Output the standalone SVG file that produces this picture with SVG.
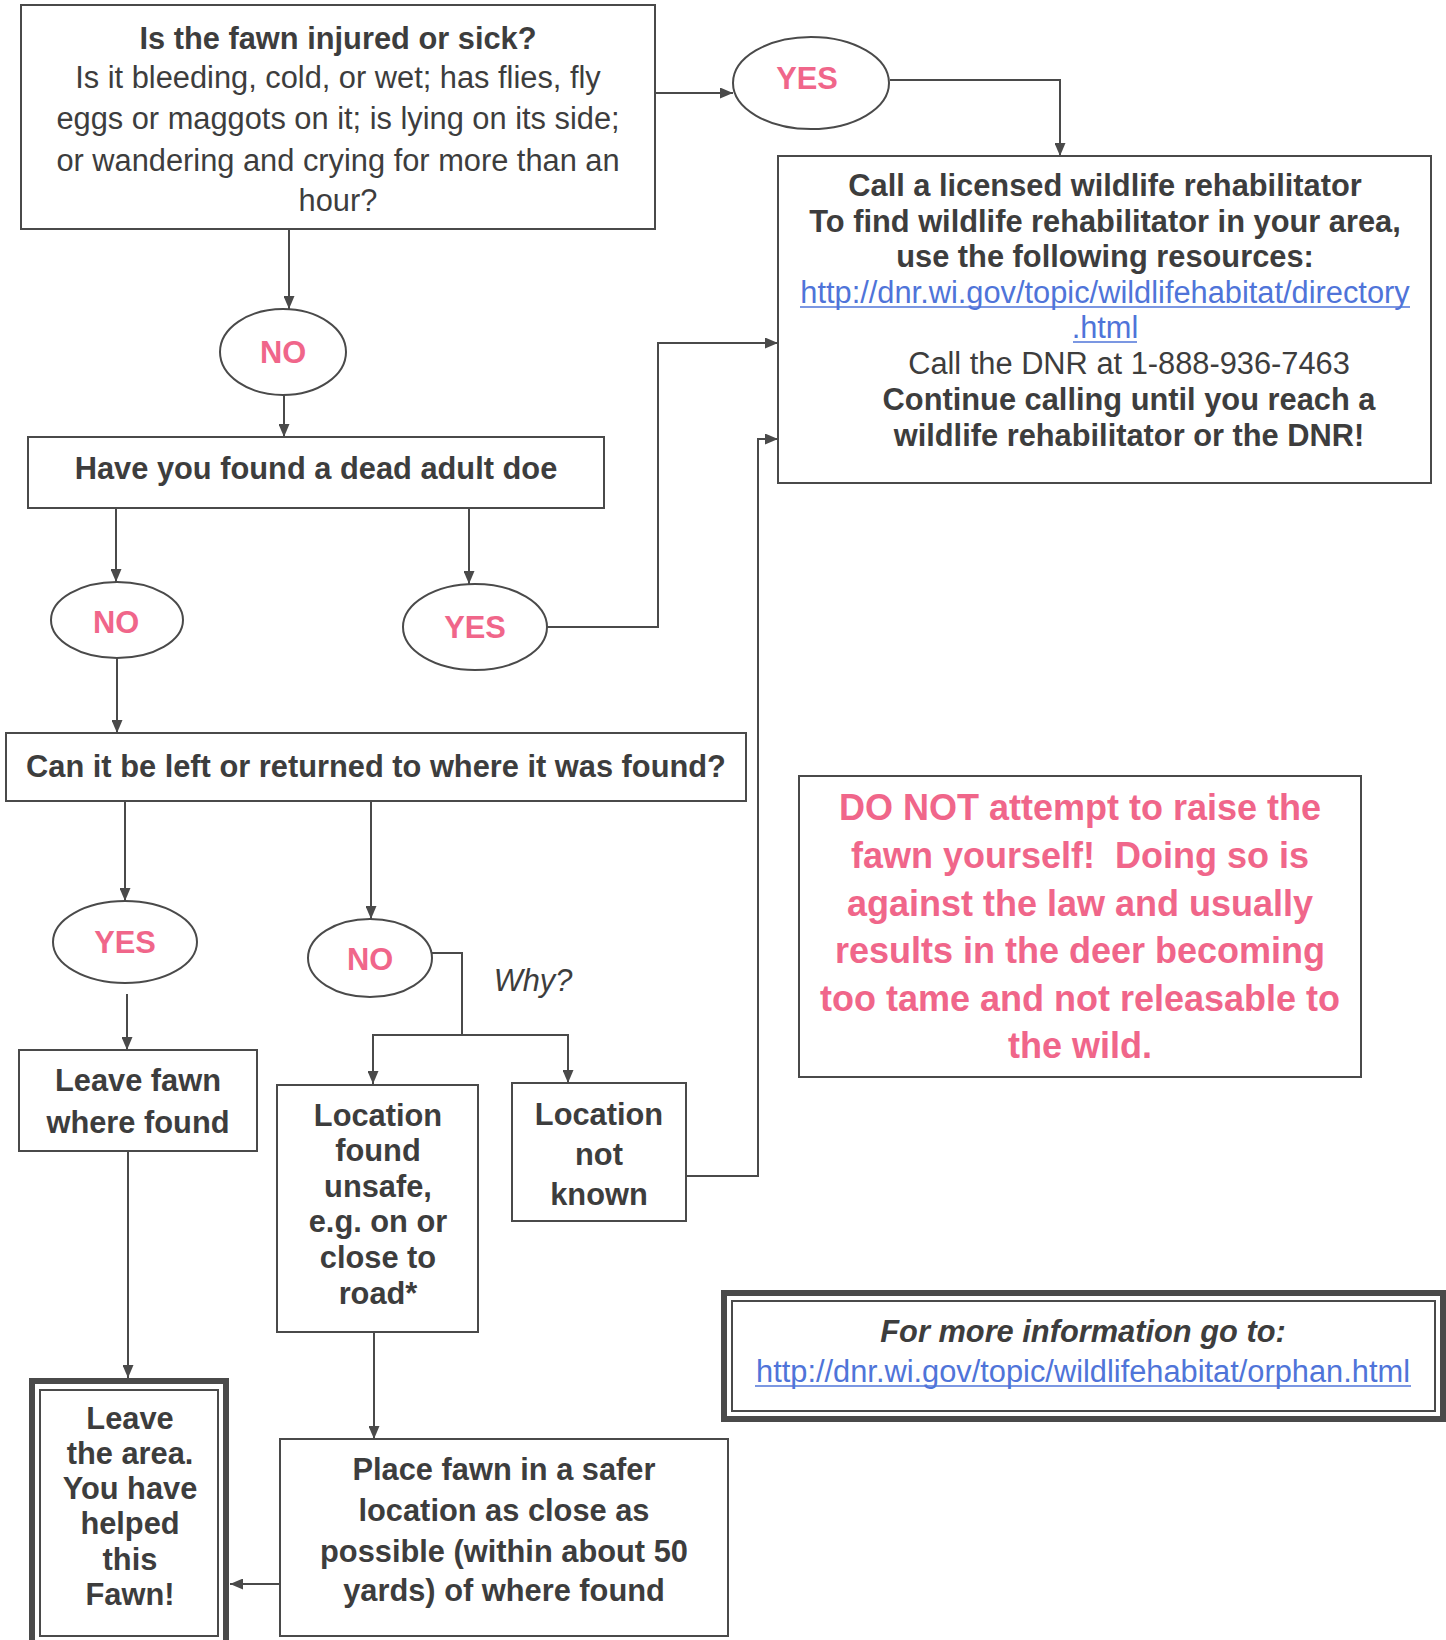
<svg xmlns="http://www.w3.org/2000/svg" width="1446" height="1640" viewBox="0 0 1446 1640">
<style>
.box{fill:#fff;stroke:#4a4a4a;stroke-width:2}
.ell{fill:#fff;stroke:#4a4a4a;stroke-width:2}
.t{font-family:"Liberation Sans",Arial,sans-serif;font-size:30.8px;fill:#3d3d3d;text-anchor:middle}
.b{font-weight:bold}
.pk{fill:#f0668a;font-weight:bold}
.pkb{font-family:"Liberation Sans",Arial,sans-serif;font-size:36px;fill:#f0668a;font-weight:bold;text-anchor:middle}
.lk{fill:#4f74d9}
.ul{stroke:#4f74d9;stroke-width:1.6}
.c{fill:none;stroke:#4a4a4a;stroke-width:2;marker-end:url(#ah)}
.cn{fill:none;stroke:#4a4a4a;stroke-width:2}
</style>
<defs>
<marker id="ah" viewBox="0 0 13 11" refX="13" refY="5.5" markerWidth="13" markerHeight="11" markerUnits="userSpaceOnUse" orient="auto">
<path d="M0,0 L13,5.5 L0,11 z" fill="#4a4a4a"/>
</marker>
</defs>
<rect width="1446" height="1640" fill="#fff"/>

<g id="connectors">
<path class="c" d="M655,93 H733"/>
<path class="c" d="M890,80 H1060 V156"/>
<path class="c" d="M289,229 V309"/>
<path class="c" d="M284,395 V437"/>
<path class="c" d="M116,509 V582"/>
<path class="c" d="M469,508 V584"/>
<path class="c" d="M547,627 H658 V343 H778"/>
<path class="c" d="M117,658 V733"/>
<path class="c" d="M125,801 V901"/>
<path class="c" d="M371,801 V919"/>
<path class="cn" d="M432,953 H462 V1035"/>
<path class="c" d="M462,1035 H373 V1084"/>
<path class="c" d="M462,1035 H568 V1083"/>
<path class="c" d="M127,994 V1050"/>
<path class="c" d="M686,1176 H758 V439 H778"/>
<path class="c" d="M128,1151 V1378"/>
<path class="c" d="M374,1332 V1439"/>
<path class="c" d="M280,1584 H230"/>
</g>

<g id="q-injured">
<rect class="box" x="21" y="5" width="634" height="224"/>
<text class="t b" x="338" y="49">Is the fawn injured or sick?</text>
<text class="t" x="338" y="88">Is it bleeding, cold, or wet; has flies, fly</text>
<text class="t" x="338" y="129">eggs or maggots on it; is lying on its side;</text>
<text class="t" x="338" y="171">or wandering and crying for more than an</text>
<text class="t" x="338" y="211">hour?</text>
</g>

<g id="yes-injured">
<ellipse class="ell" cx="811" cy="83" rx="78" ry="46"/>
<text class="t pk" x="807" y="89">YES</text>
</g>

<g id="call-rehab">
<rect class="box" x="778" y="156" width="653" height="327"/>
<text class="t b" x="1105" y="196">Call a licensed wildlife rehabilitator</text>
<text class="t b" x="1105" y="232">To find wildlife rehabilitator in your area,</text>
<text class="t b" x="1105" y="267">use the following resources:</text>
<text class="t lk" x="1105" y="303">http://dnr.wi.gov/topic/wildlifehabitat/directory</text>
<line class="ul" x1="800" y1="307" x2="1410" y2="307"/>
<text class="t lk" x="1105" y="338">.html</text>
<line class="ul" x1="1073" y1="342" x2="1137" y2="342"/>
<text class="t" x="1129" y="374">Call the DNR at 1-888-936-7463</text>
<text class="t b" x="1129" y="410">Continue calling until you reach a</text>
<text class="t b" x="1129" y="446">wildlife rehabilitator or the DNR!</text>
</g>

<g id="no-injured">
<ellipse class="ell" cx="283" cy="352" rx="63" ry="43"/>
<text class="t pk" x="283" y="363">NO</text>
</g>

<g id="q-dead-doe">
<rect class="box" x="28" y="437" width="576" height="71"/>
<text class="t b" x="316" y="479">Have you found a dead adult doe</text>
</g>

<g id="no-doe">
<ellipse class="ell" cx="117" cy="620" rx="66" ry="38"/>
<text class="t pk" x="116" y="633">NO</text>
</g>

<g id="yes-doe">
<ellipse class="ell" cx="475" cy="627" rx="72" ry="43"/>
<text class="t pk" x="475" y="638">YES</text>
</g>

<g id="q-return">
<rect class="box" x="6" y="733" width="740" height="68"/>
<text class="t b" x="376" y="777">Can it be left or returned to where it was found?</text>
</g>

<g id="yes-return">
<ellipse class="ell" cx="125" cy="942" rx="72" ry="41"/>
<text class="t pk" x="125" y="953">YES</text>
</g>

<g id="no-return">
<ellipse class="ell" cx="370" cy="958" rx="62" ry="39"/>
<text class="t pk" x="370" y="970">NO</text>
</g>

<g id="why-label">
<text class="t" x="533" y="991" font-style="italic">Why?</text>
</g>

<g id="leave-fawn">
<rect class="box" x="19" y="1050" width="238" height="101"/>
<text class="t b" x="138" y="1091">Leave fawn</text>
<text class="t b" x="138" y="1133">where found</text>
</g>

<g id="unsafe">
<rect class="box" x="277" y="1085" width="201" height="247"/>
<text class="t b" x="378" y="1126">Location</text>
<text class="t b" x="378" y="1161">found</text>
<text class="t b" x="378" y="1197">unsafe,</text>
<text class="t b" x="378" y="1232">e.g. on or</text>
<text class="t b" x="378" y="1268">close to</text>
<text class="t b" x="378" y="1304">road*</text>
</g>

<g id="not-known">
<rect class="box" x="512" y="1083" width="174" height="138"/>
<text class="t b" x="599" y="1125">Location</text>
<text class="t b" x="599" y="1165">not</text>
<text class="t b" x="599" y="1205">known</text>
</g>

<g id="leave-area">
<rect x="32" y="1381" width="194" height="262" fill="#fff" stroke="#4a4a4a" stroke-width="6"/>
<rect x="40" y="1390" width="178" height="246" fill="none" stroke="#4a4a4a" stroke-width="2"/>
<text class="t b" x="130" y="1429">Leave</text>
<text class="t b" x="130" y="1464">the area.</text>
<text class="t b" x="130" y="1499">You have</text>
<text class="t b" x="130" y="1534">helped</text>
<text class="t b" x="130" y="1570">this</text>
<text class="t b" x="130" y="1605">Fawn!</text>
</g>

<g id="place-safer">
<rect class="box" x="280" y="1439" width="448" height="197"/>
<text class="t b" x="504" y="1480">Place fawn in a safer</text>
<text class="t b" x="504" y="1521">location as close as</text>
<text class="t b" x="504" y="1562">possible (within about 50</text>
<text class="t b" x="504" y="1601">yards) of where found</text>
</g>

<g id="warning">
<rect class="box" x="799" y="776" width="562" height="301"/>
<text class="pkb" x="1080" y="820">DO NOT attempt to raise the</text>
<text class="pkb" x="1080" y="868">fawn yourself!&#160; Doing so is</text>
<text class="pkb" x="1080" y="916">against the law and usually</text>
<text class="pkb" x="1080" y="963">results in the deer becoming</text>
<text class="pkb" x="1080" y="1011">too tame and not releasable to</text>
<text class="pkb" x="1080" y="1058">the wild.</text>
</g>

<g id="more-info">
<rect x="724" y="1293" width="719" height="126" fill="#fff" stroke="#4a4a4a" stroke-width="6"/>
<rect x="732" y="1301" width="703" height="110" fill="none" stroke="#4a4a4a" stroke-width="2"/>
<text class="t b" x="1083" y="1342" font-style="italic">For more information go to:</text>
<text class="t lk" x="1083" y="1382">http://dnr.wi.gov/topic/wildlifehabitat/orphan.html</text>
<line class="ul" x1="755" y1="1386" x2="1411" y2="1386"/>
</g>
</svg>
